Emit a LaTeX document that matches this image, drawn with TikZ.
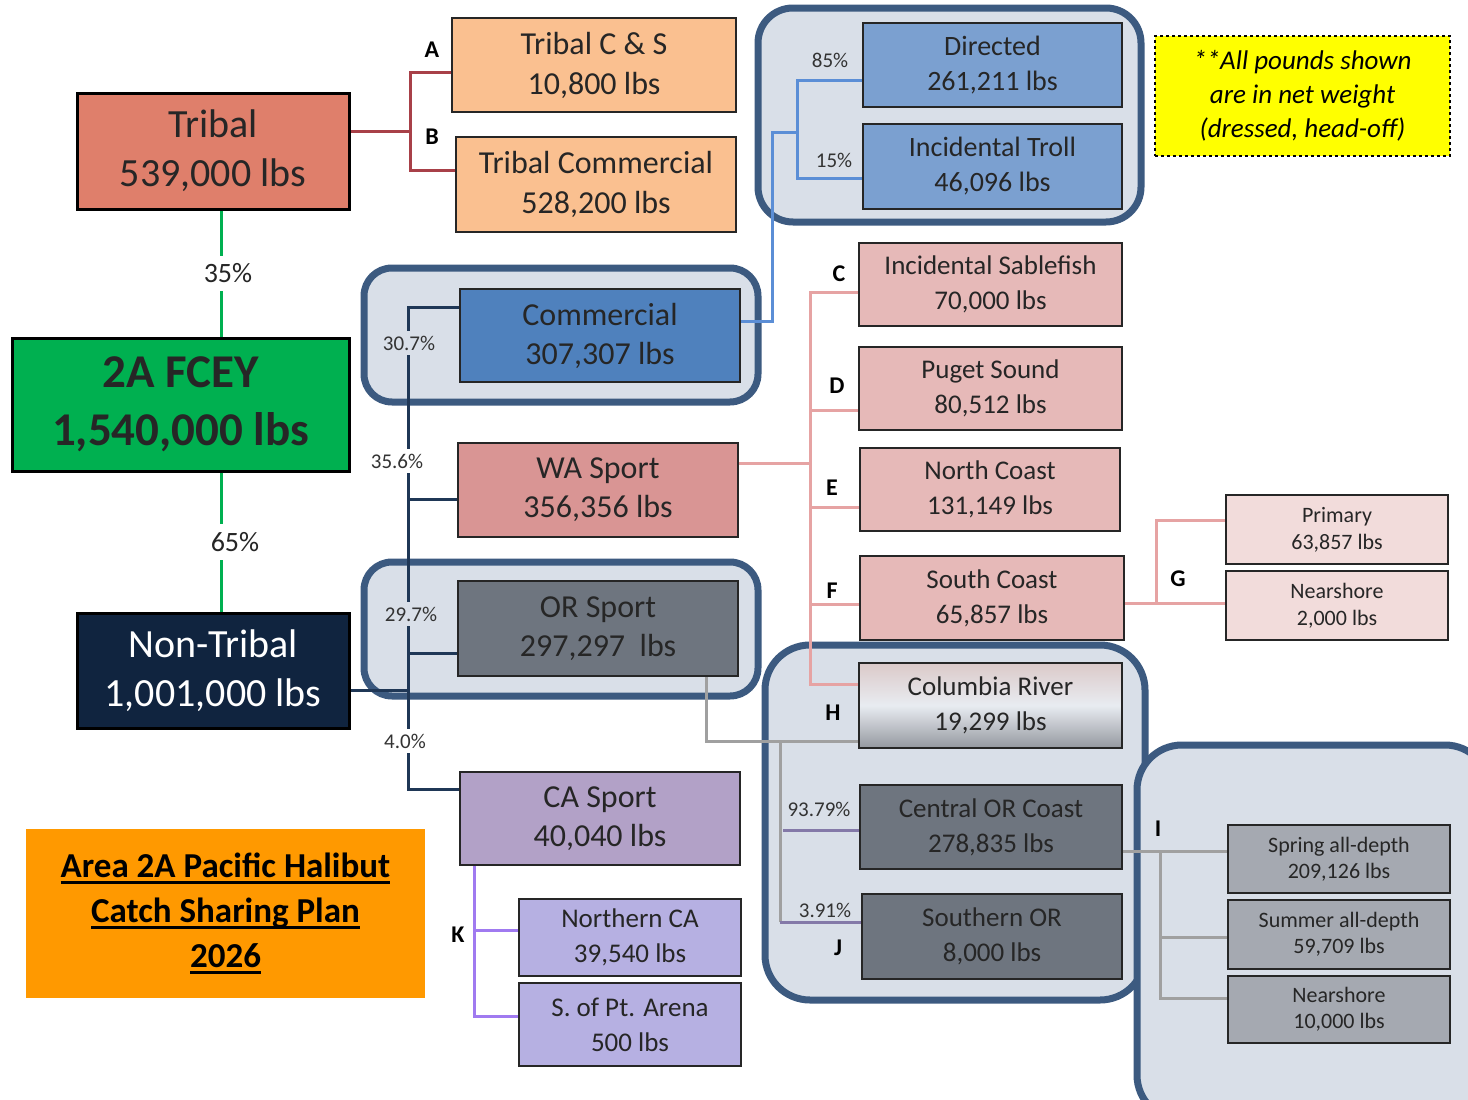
\documentclass[tikz,border=0pt]{standalone}
\usepackage{fontspec}
\setmainfont{Carlito}
\definecolor{tribalc}{HTML}{DF7F6B}
\definecolor{fceyg}{HTML}{00B050}
\definecolor{navyb}{HTML}{10243F}
\definecolor{peach}{HTML}{FAC090}
\definecolor{dirblue}{HTML}{7BA0D0}
\definecolor{comblue}{HTML}{4F81BD}
\definecolor{wapink}{HTML}{D99594}
\definecolor{orgray}{HTML}{6E757F}
\definecolor{capurple}{HTML}{B2A1C7}
\definecolor{pinkbox}{HTML}{E6B9B8}
\definecolor{lightpink}{HTML}{F2DCDB}
\definecolor{igray}{HTML}{A5A9B1}
\definecolor{lavender}{HTML}{B6B0E2}
\definecolor{grpfill}{HTML}{D9DFE8}
\definecolor{grpline}{HTML}{3C5A80}
\definecolor{redln}{HTML}{A84048}
\definecolor{blueln}{HTML}{5B8ED6}
\definecolor{navyln}{HTML}{1F3756}
\definecolor{pinkln}{HTML}{E6A3A3}
\definecolor{grayln}{HTML}{A0A0A0}
\definecolor{purpln}{HTML}{8479A8}
\definecolor{violetln}{HTML}{A07AF0}
\definecolor{titleor}{HTML}{FF9900}
\definecolor{noteyel}{HTML}{FFFF00}
\newcommand\fs[2]{\fontsize{#1}{#2}\selectfont}
\newcommand\ttlline[1]{\leavevmode\setbox0\hbox{#1}\rlap{\rule[-6pt]{\wd0}{2.5pt}}\box0}
\begin{document}
\begin{tikzpicture}[x=1pt,y=-1pt,
  box/.style={draw=black!85,line width=1.5pt,align=center,inner sep=0pt,text=black!85},
  bigbox/.style={box,draw=black,line width=3pt},
  group/.style={fill=grpfill,draw=grpline,line width=7pt},
  conn/.style={line width=3pt},
  pct/.style={inner sep=1pt,font=\fs{21}{25},text=black!80},
  letter/.style={inner sep=0pt,font=\bfseries\fs{24}{28}}]
\useasboundingbox (0,0) rectangle (1468,1100);
\clip (0,0) rectangle (1468,1100);
\fill[white] (0,0) rectangle (1468,1100);
% grouped panels
\draw[group,rounded corners=35pt] (758,8) rectangle (1141,222);
\draw[group,rounded corners=28pt] (364,268) rectangle (758,402);
\draw[group,rounded corners=28pt] (364,562) rectangle (758,696);
\draw[group,rounded corners=45pt] (765,645) rectangle (1145,1000);
\draw[group,rounded corners=45pt] (1137,745) rectangle (1490,1120);
% main boxes
\node[bigbox,fill=tribalc,minimum width=272pt,minimum height=116pt,font=\fs{40}{49}] (tribal) at (213,151) {Tribal\\539,000 lbs};
\node[bigbox,fill=fceyg,minimum width=337pt,minimum height=133pt,font=\bfseries\fs{47}{58}] (fcey) at (180.5,404.5) {2A FCEY\\1,540,000 lbs};
\node[bigbox,fill=navyb,text=white,minimum width=272pt,minimum height=115pt,font=\fs{40}{49}] (nontribal) at (213,670.5) {Non-Tribal\\1,001,000 lbs};
\node[box,fill=peach,minimum width=284pt,minimum height=94pt,font=\fs{32}{40}] (tcs) at (594,65) {Tribal C \& S\\10,800 lbs};
\node[box,fill=peach,minimum width=280pt,minimum height=95pt,font=\fs{32}{40}] (tcom) at (596,184.5) {Tribal Commercial\\528,200 lbs};
\node[box,fill=dirblue,minimum width=259pt,minimum height=84pt,font=\fs{28}{35}] (directed) at (992.5,65) {Directed\\261,211 lbs};
\node[box,fill=dirblue,minimum width=259pt,minimum height=85pt,font=\fs{28}{35}] (troll) at (992.5,166.5) {Incidental Troll\\46,096 lbs};
\node[box,fill=comblue,minimum width=280pt,minimum height=93pt,font=\fs{32}{39}] (commercial) at (600,335.5) {Commercial\\307,307 lbs};
\node[box,fill=wapink,minimum width=280pt,minimum height=94pt,font=\fs{32}{39}] (wasport) at (598,490) {WA Sport\\356,356 lbs};
\node[box,fill=orgray,minimum width=280pt,minimum height=95pt,font=\fs{32}{39}] (orsport) at (598,628.5) {OR Sport\\297,297\ \ lbs};
\node[box,fill=capurple,minimum width=280pt,minimum height=93pt,font=\fs{32}{39}] (casport) at (600,818.5) {CA Sport\\40,040 lbs};
\node[box,fill=pinkbox,minimum width=263pt,minimum height=83pt,font=\fs{27}{35}] (sable) at (990.5,284.5) {Incidental Sablefish\\70,000 lbs};
\node[box,fill=pinkbox,minimum width=263pt,minimum height=83pt,font=\fs{27}{35}] (puget) at (990.5,388.5) {Puget Sound\\80,512 lbs};
\node[box,fill=pinkbox,minimum width=260pt,minimum height=83pt,font=\fs{27}{35}] (north) at (990,489.5) {North Coast\\131,149 lbs};
\node[box,fill=pinkbox,minimum width=264pt,minimum height=84pt,font=\fs{27}{35}] (south) at (992,598) {South Coast\\65,857 lbs};
\node[box,fill=lightpink,minimum width=222pt,minimum height=69pt,font=\fs{22}{27}] (primary) at (1337,529.5) {Primary\\63,857 lbs};
\node[box,fill=lightpink,minimum width=222pt,minimum height=69pt,font=\fs{22}{27}] (gnear) at (1337,605.5) {Nearshore\\2,000 lbs};
\node[box,top color=lightpink!80!gray,bottom color=igray!90!black,middle color=grpfill!60!white,minimum width=263pt,minimum height=85pt,font=\fs{27}{35}] (columbia) at (990.5,705.5) {Columbia River\\19,299 lbs};
\node[box,fill=orgray,minimum width=262pt,minimum height=84pt,font=\fs{27}{35}] (central) at (991,827) {Central OR Coast\\278,835 lbs};
\node[box,fill=orgray,minimum width=260pt,minimum height=85pt,font=\fs{27}{35}] (southern) at (992,936.5) {Southern OR\\8,000 lbs};
\node[box,fill=igray,minimum width=222pt,minimum height=68pt,font=\fs{22}{26}] (spring) at (1339,859) {Spring all-depth\\209,126 lbs};
\node[box,fill=igray,minimum width=222pt,minimum height=69pt,font=\fs{22}{26}] (summer) at (1339,934.5) {Summer all-depth\\59,709 lbs};
\node[box,fill=igray,minimum width=222pt,minimum height=67pt,font=\fs{22}{26}] (inear) at (1339,1009.5) {Nearshore\\10,000 lbs};
\node[box,fill=lavender,minimum width=222pt,minimum height=77pt,font=\fs{27}{35}] (northca) at (630,937.5) {Northern CA\\39,540 lbs};
\node[box,fill=lavender,minimum width=222pt,minimum height=83pt,font=\fs{27}{35}] (arena) at (630,1024.5) {S. of Pt. Arena\\500 lbs};
% note and title
\node[draw=black,dashed,line width=1.5pt,fill=noteyel,minimum width=295pt,minimum height=120pt,align=center,inner sep=0pt,font=\itshape\fs{27}{34}] (note) at (1302.5,96) {**All pounds shown\\are in net weight\\(dressed, head-off)};
\node[fill=titleor,minimum width=399pt,minimum height=169pt,align=center,inner sep=0pt,font=\bfseries\fs{35}{45}] (title) at (225.5,913.5) {\ttlline{Area 2A Pacific Halibut}\\\ttlline{Catch Sharing Plan}\\\ttlline{2026}};
% junctions
\coordinate (gx) at (221,0);
\coordinate (jab) at (410,131);
\coordinate (jcom) at (772,321);
\coordinate (jup) at (772,132);
\coordinate (yd) at (797,80);
\coordinate (yt) at (797,178);
\coordinate (n1) at (408,307);
\coordinate (nwa) at (408,499);
\coordinate (nor) at (408,653);
\coordinate (nnt) at (408,690);
\coordinate (n4) at (408,789);
\coordinate (jwa) at (810,463);
\coordinate (pc) at (810,292);
\coordinate (pd) at (810,410);
\coordinate (pe) at (810,507);
\coordinate (pf) at (810,604);
\coordinate (ph) at (810,684);
\coordinate (jg) at (1156,603);
\coordinate (gp) at (1156,520);
\coordinate (og) at (706,741);
\coordinate (ov1) at (780,741);
\coordinate (ov2) at (780,922);
\coordinate (oc) at (783,830);
\coordinate (ji) at (1160,851);
\coordinate (is) at (1160,937);
\coordinate (in) at (1160,998);
\coordinate (k1) at (474,930);
\coordinate (k2) at (474,1016);
% connectors
\draw[conn,fceyg] (tribal.south -| gx) -- (fcey.north -| gx)
  node[midway,fill=white,inner sep=8pt,font=\fs{28}{34},text=black!85,xshift=7pt] (p35) {35\%};
\draw[conn,fceyg] (fcey.south -| gx) -- (nontribal.north -| gx)
  node[midway,fill=white,inner sep=8pt,font=\fs{28}{34},text=black!85,xshift=14pt] (p65) {65\%};
\draw[conn,redln] (tribal.east |- jab) -- (jab);
\draw[conn,redln] ([yshift=-7pt]tcs.west) -| (jab) |- ([yshift=14pt]tcom.west);
\draw[conn,blueln] (commercial.east |- jcom) -- (jcom) -- (jup) -- (jup -| yd);
\draw[conn,blueln] (directed.west |- yd) -- (yd) -- (yt) -- (troll.west |- yt);
\draw[conn,navyln] (commercial.west |- n1) -- (n1) -- (n4) -- (casport.west |- n4);
\draw[conn,navyln] (nwa) -- (wasport.west |- nwa);
\draw[conn,navyln] (nor) -- (orsport.west |- nor);
\draw[conn,navyln] (nontribal.east |- nnt) -- (nnt);
\draw[conn,pinkln] (wasport.east |- jwa) -- (jwa);
\draw[conn,pinkln] (sable.west |- pc) -- (pc) -- (ph) -- (columbia.west |- ph);
\draw[conn,pinkln] (pd) -- (puget.west |- pd);
\draw[conn,pinkln] (pe) -- (north.west |- pe);
\draw[conn,pinkln] (pf) -- (south.west |- pf);
\draw[conn,pinkln] (south.east |- jg) -- (jg) -- (gnear.west |- jg);
\draw[conn,pinkln] (jg) -- (gp) -- (primary.west |- gp);
\draw[conn,grayln] (orsport.south -| og) -- (og) -- (columbia.west |- og);
\draw[conn,grayln] (ov1) -- (ov2);
\draw[conn,purpln] (ov2) -- (southern.west |- ov2);
\draw[conn,purpln] (oc) -- (central.west |- oc);
\draw[conn,grayln] (central.east |- ji) -- (spring.west |- ji);
\draw[conn,grayln] (ji) -- (in) -- (inear.west |- in);
\draw[conn,grayln] (is) -- (summer.west |- is);
\draw[conn,violetln] (casport.south -| k1) -- (k2) -- (arena.west |- k2);
\draw[conn,violetln] (k1) -- (northca.west |- k1);
% percentages
\node[pct] (p85) at (830,60) {85\%};
\node[pct] (p15) at (834,160) {15\%};
\node[pct,fill=grpfill,inner sep=5pt] (p307) at (409,343) {30.7\%};
\node[pct,fill=white,inner sep=5pt] (p356) at (397,461) {35.6\%};
\node[pct,fill=grpfill,inner sep=5pt] (p297) at (411,614) {29.7\%};
\node[pct,fill=white,inner sep=5pt] (p40) at (405,741) {4.0\%};
\node[pct] (p9379) at (819,809) {93.79\%};
\node[pct] (p391) at (825,910) {3.91\%};
% letters
\node[letter] (la) at (432,50) {A};
\node[letter] (lb) at (432,137) {B};
\node[letter] (lc) at (839,274) {C};
\node[letter] (ld) at (837,386) {D};
\node[letter] (le) at (832,488) {E};
\node[letter] (lf) at (832,591) {F};
\node[letter] (lg) at (1178,579) {G};
\node[letter] (lh) at (833,713) {H};
\node[letter] (li) at (1158,829) {I};
\node[letter] (lj) at (838,948) {J};
\node[letter] (lk) at (458,935) {K};
\end{tikzpicture}
\end{document}
